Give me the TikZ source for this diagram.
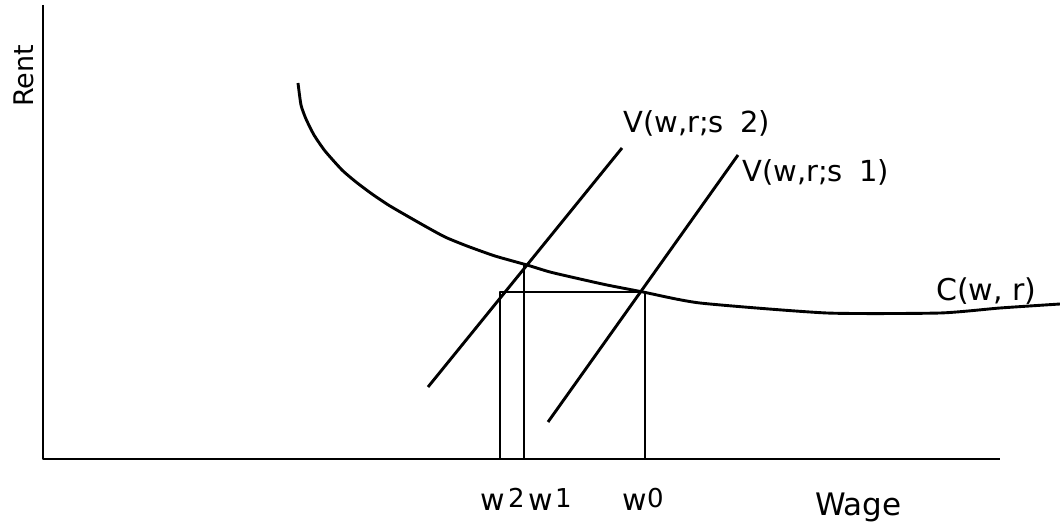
\documentclass[tikz,border=0pt]{standalone}
\usepackage{fontspec}
\setmainfont{DejaVu Sans}
\begin{document}
\begin{tikzpicture}[x=1pt,y=-1pt,
  line/.style={line width=2.9pt, line join=round},
  lbl/.style={font=\fontsize{29}{32}\selectfont, inner sep=0pt},
  wlbl/.style={font=\fontsize{30}{32}\selectfont, inner sep=0pt},
  small/.style={font=\fontsize{26}{28}\selectfont, inner sep=0pt}]
\useasboundingbox (0,0) rectangle (1060,529);
% axes
\coordinate (ytop) at (43,5);
\coordinate (orig) at (43,459);
\coordinate (xend) at (1000,459);
\draw[line] (ytop) -- (orig) -- (xend);
% cost curve
\draw[line] plot[smooth, tension=0.35] coordinates {(298,83) (301,105) (306,119) (314,135) (325,151) (342,170) (356,182) (372,194) (390,206) (423,225) (445,237) (467,246) (495,256) (527,265) (550,272) (580,279) (607,285) (643,292) (700,303) (827,313) (940,313) (1000,308) (1060,304)};
% iso-value lines
\coordinate (v2a) at (428,387); \coordinate (v2b) at (622,148);
\coordinate (v1a) at (548,422); \coordinate (v1b) at (738,155);
\draw[line] (v2a) -- (v2b);
\draw[line] (v1a) -- (v1b);
% verticals and horizontal
\coordinate (w2t) at (500,292); \coordinate (w2b) at (500,459);
\coordinate (w1t) at (524,265); \coordinate (w1b) at (524,459);
\coordinate (w0t) at (645,292); \coordinate (w0b) at (645,459);
\draw[line] (w2b) -- (w2t) -- (w0t) -- (w0b);
\draw[line] (w1b) -- (w1t);
% labels
\node[lbl, anchor=base west] (lv2) at (623,133) {V(w,r;s\hspace{0.55em}2)};
\node[lbl, anchor=base west] (lv1) at (742,182) {V(w,r;s\hspace{0.55em}1)};
\node[lbl, font=\fontsize{30}{32}\selectfont, anchor=base west] (lc) at (936,301) {C(w, r)};
\node[lbl, font=\fontsize{27}{30}\selectfont, rotate=90, anchor=base] (lr) at (33,76) {Rent};
\node[lbl, font=\fontsize{31}{32}\selectfont, anchor=base west] (lw) at (815,515) {Wage};
\node[wlbl, anchor=base west] (lw2) at (480,510) {w};
\node[small, anchor=base west] (lw2n) at (508,507) {2};
\node[wlbl, anchor=base west] (lw1) at (528,510) {w};
\node[small, anchor=base west] (lw1n) at (555,507) {1};
\node[wlbl, anchor=base west] (lw0) at (622,510) {w};
\node[small, anchor=base west] (lw0n) at (647,507) {0};
\end{tikzpicture}
\end{document}
